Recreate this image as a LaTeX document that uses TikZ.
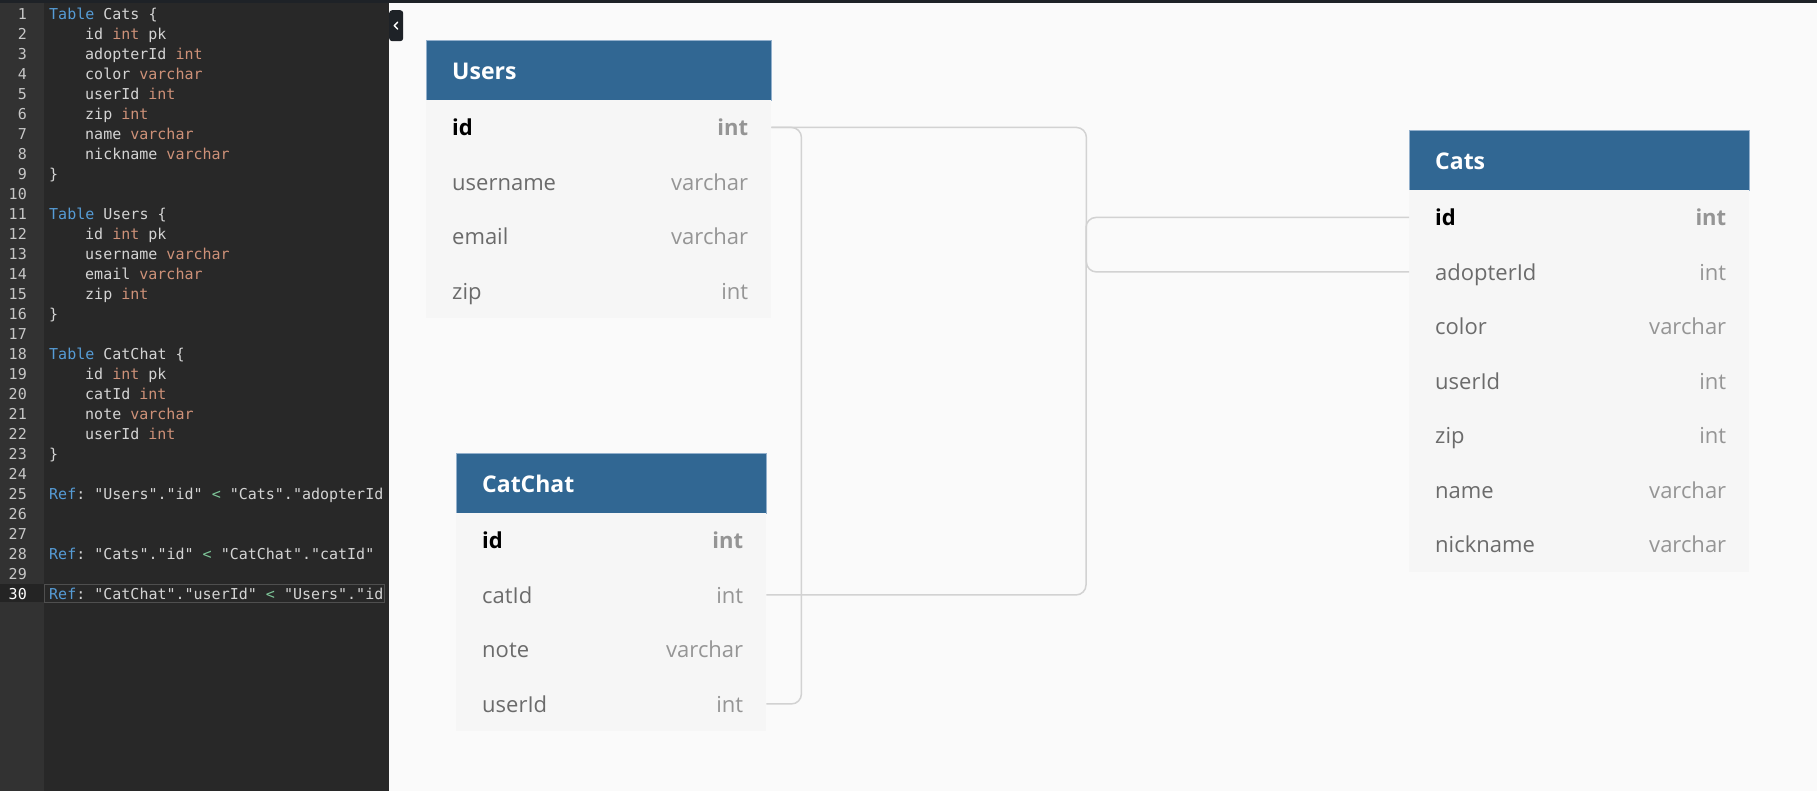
\documentclass[tikz,border=0pt]{standalone}
\usepackage{fontspec}
\setmainfont{Open Sans}
\newfontfamily\codefont{DejaVu Sans Mono}
\usepackage{xcolor}
\usepackage{tikz}
\usetikzlibrary{positioning,calc}
\frenchspacing

\definecolor{topbar}{HTML}{1E2227}
\definecolor{editorbg}{HTML}{282828}
\definecolor{gutterbg}{HTML}{323232}
\definecolor{codefg}{HTML}{D4D4D4}
\definecolor{kwblue}{HTML}{569CD6}
\definecolor{tyorange}{HTML}{CE9178}
\definecolor{opgreen}{HTML}{7EC699}
\definecolor{canvasbg}{HTML}{FAFAFA}
\definecolor{headblue}{HTML}{316793}
\definecolor{headedge}{HTML}{93B0CC}
\definecolor{rowbg}{HTML}{F6F6F6}
\definecolor{fieldgray}{HTML}{6B6B6B}
\definecolor{typegray}{HTML}{959595}
\definecolor{relgray}{HTML}{D2D2D2}

\newcommand{\cdkw}[1]{\textcolor{kwblue}{#1}}
\newcommand{\cdty}[1]{\textcolor{tyorange}{#1}}
\newcommand{\cdop}[1]{\textcolor{opgreen}{#1}}

\begin{document}
\begin{tikzpicture}[x=1pt, y=-1pt,
    codeline/.style={anchor=base west, inner sep=0, text=codefg, font=\codefont\fontsize{15}{18}\selectfont},
    lineno/.style={anchor=base east, inner sep=0, text=codefg!85!gray, font=\codefont\fontsize{15}{18}\selectfont},
    tblhead/.style={anchor=north west, fill=headblue, draw=headedge, line width=0.8, minimum height=60, inner sep=0},
    headtxt/.style={anchor=base west, inner sep=0, text=white, font=\fontsize{23}{28}\selectfont\bfseries},
    row/.style={anchor=north west, fill=rowbg, minimum height=54.5, inner sep=0},
    fname/.style={anchor=base west, inner sep=0, text=fieldgray, font=\fontsize{22}{26}\selectfont},
    ftype/.style={anchor=base east, inner sep=0, text=typegray, font=\fontsize{22}{26}\selectfont},
    pkname/.style={fname, text=black, font=\fontsize{22}{26}\selectfont\bfseries},
    pktype/.style={ftype, font=\fontsize{22}{26}\selectfont\bfseries},
    relline/.style={draw=relgray, line width=1.5, rounded corners=10}]
  \useasboundingbox (0,0) rectangle (1817,791);
  \fill[canvasbg] (0,0) rectangle (1817,791);

  % editor
  \fill[editorbg] (0,0) rectangle (389,791);
  \fill[gutterbg] (0,0) rectangle (44,791);
  \fill[editorbg!90!black] (0,584) rectangle (44,602);
  \draw[gray!45!editorbg, line width=1] (44,584) rectangle (384,602);
  \fill[topbar] (0,0) rectangle (1817,3);

  \foreach \n in {1,...,29}
    \node[lineno] (ln\n) at (27, {19.5+(\n-1)*20}) {\n};
  \node[lineno, text=white] (ln30) at (27, 599.5) {30};

  \foreach \n/\x/\txt in {
      1/49/{\cdkw{Table} Cats \{},
      2/85/{id \cdty{int} pk},
      3/85/{adopterId \cdty{int}},
      4/85/{color \cdty{varchar}},
      5/85/{userId \cdty{int}},
      6/85/{zip \cdty{int}},
      7/85/{name \cdty{varchar}},
      8/85/{nickname \cdty{varchar}},
      9/49/{\}},
      11/49/{\cdkw{Table} Users \{},
      12/85/{id \cdty{int} pk},
      13/85/{username \cdty{varchar}},
      14/85/{email \cdty{varchar}},
      15/85/{zip \cdty{int}},
      16/49/{\}},
      18/49/{\cdkw{Table} CatChat \{},
      19/85/{id \cdty{int} pk},
      20/85/{catId \cdty{int}},
      21/85/{note \cdty{varchar}},
      22/85/{userId \cdty{int}},
      23/49/{\}},
      25/49/{\cdkw{Ref}: "Users"."id" \cdop{<} "Cats"."adopterId},
      28/49/{\cdkw{Ref}: "Cats"."id" \cdop{<} "CatChat"."catId"},
      30/49/{\cdkw{Ref}: "CatChat"."userId" \cdop{<} "Users"."id}}
    \node[codeline] (code\n) at (\x, {19.5+(\n-1)*20}) {\txt};

  % toggle button
  \node[anchor=north west, fill=topbar, rounded corners=3, minimum width=14, minimum height=31, inner sep=0] (toggle) at (389,10) {};
  \draw[white, line width=1.4, line cap=round, line join=round] ($(toggle.center)+(1.5,-3.5)$) -- ++(-3.5,3.5) -- ++(3.5,3.5);

  % Users
  \node[tblhead, minimum width=345] (users) at (426,40) {};
  \node[headtxt] at ($(users.west)+(26,9)$) {Users};
  \foreach \f/\t/\sa/\sb [count=\i] in {id/int/pkname/pktype, username/varchar/fname/ftype, email/varchar/fname/ftype, zip/int/fname/ftype} {
    \node[row, minimum width=345] (users-\f) at (426, {100+(\i-1)*54.5}) {};
    \node[\sa] at ($(users-\f.west)+(26,8.5)$) {\f};
    \node[\sb] at ($(users-\f.east)+(-23,8.5)$) {\t};
  }

  % CatChat
  \node[tblhead, minimum width=310] (catchat) at (456,453) {};
  \node[headtxt] at ($(catchat.west)+(26,9)$) {CatChat};
  \foreach \f/\t/\sa/\sb [count=\i] in {id/int/pkname/pktype, catId/int/fname/ftype, note/varchar/fname/ftype, userId/int/fname/ftype} {
    \node[row, minimum width=310] (catchat-\f) at (456, {513+(\i-1)*54.5}) {};
    \node[\sa] at ($(catchat-\f.west)+(26,8.5)$) {\f};
    \node[\sb] at ($(catchat-\f.east)+(-23,8.5)$) {\t};
  }

  % Cats
  \node[tblhead, minimum width=340] (cats) at (1409,130) {};
  \node[headtxt] at ($(cats.west)+(26,9)$) {Cats};
  \foreach \f/\t/\sa/\sb [count=\i] in {id/int/pkname/pktype, adopterId/int/fname/ftype, color/varchar/fname/ftype, userId/int/fname/ftype, zip/int/fname/ftype, name/varchar/fname/ftype, nickname/varchar/fname/ftype} {
    \node[row, minimum width=340] (cats-\f) at (1409, {190+(\i-1)*54.5}) {};
    \node[\sa] at ($(cats-\f.west)+(26,8.5)$) {\f};
    \node[\sb] at ($(cats-\f.east)+(-23,8.5)$) {\t};
  }

  % refs
  \draw[relline] (users-id.east) -- ++(30,0) |- (catchat-userId.east);
  \draw[relline] (users-id.east) -- ++(315,0) |- (cats-adopterId.west);
  \draw[relline] (cats-id.west) -- ++(-323,0) |- (catchat-catId.east);
\end{tikzpicture}
\end{document}
